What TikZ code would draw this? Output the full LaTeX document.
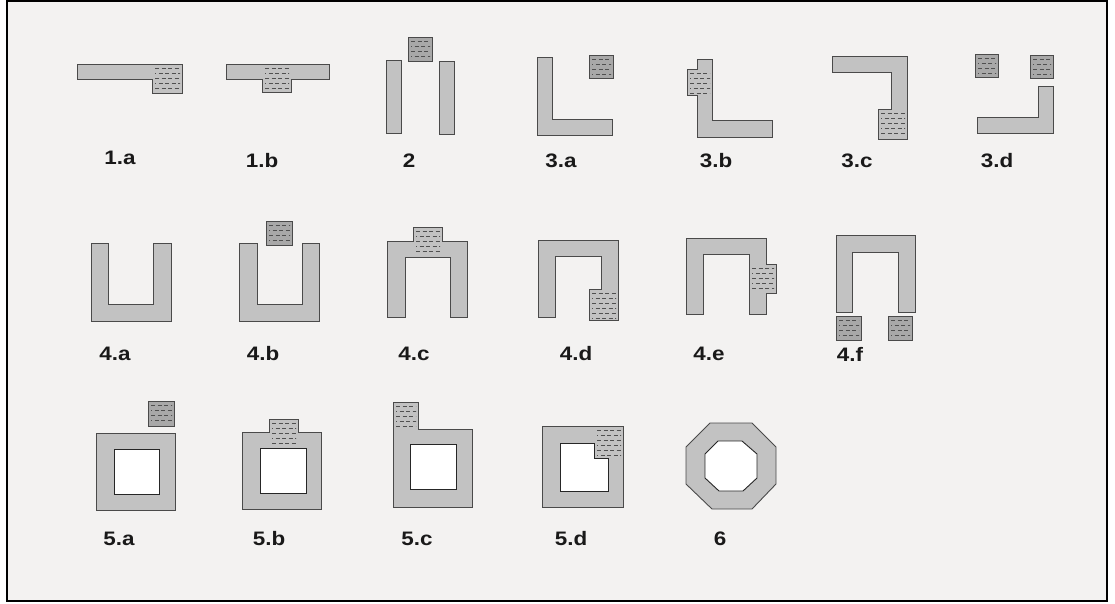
\documentclass[tikz,border=0pt]{standalone}
\usepackage{fontspec}
\setmainfont{Liberation Sans}
\definecolor{bg}{HTML}{F3F2F1}
\definecolor{barfill}{HTML}{C2C2C2}
\definecolor{sqfill}{HTML}{A8A8A8}
\definecolor{edge}{HTML}{4A4A4A}
\definecolor{dashc}{HTML}{505050}
\tikzset{
  part/.style={fill=barfill, draw=edge, line width=0.9pt, line join=miter},
  hole/.style={fill=white, draw=black!85, line width=0.9pt},
  sq/.style={fill=sqfill, draw=edge, line width=0.9pt},
  hatchline/.style={draw=dashc, line width=0.8pt, dash pattern=on 4pt off 2.5pt},
  lbl/.style={font=\bfseries\fontsize{19.5}{20}\selectfont, text=black!90, inner sep=0pt}
}
\newcommand{\hatchbox}[4]{%
  \begin{scope}
    \clip (#1+2,#2+2) rectangle (#3-2,#4-2);
    \foreach \k in {0,...,7}{%
      \pgfmathsetmacro{\yy}{#2+4.5+5*\k}%
      \pgfmathsetmacro{\off}{mod(\k,2)*3}%
      \draw[hatchline, dash phase=\off pt] (#1+3,\yy) -- (#3-1,\yy);
    }
  \end{scope}}
\newcommand{\sqbox}[4]{%
  \draw[sq] (#1,#2) rectangle (#3,#4);
  \hatchbox{#1}{#2}{#3}{#4}}
\newcommand{\lab}[4]{\node[lbl] (#1) at (#2,#3) {\scalebox{1.15}[1]{#4}};}
\begin{document}
\begin{tikzpicture}[x=1pt,y=-1pt]
\useasboundingbox (0,0) rectangle (1115,603);
\fill[white] (0,0) rectangle (1115,603);
\draw[fill=bg, draw=black, line width=2pt] (7,1) rectangle (1107,601);

% 1.a
\draw[part] (77,64) -- (182,64) -- (182,93) -- (152,93) -- (152,79) -- (77,79) -- cycle;
\hatchbox{152}{64}{182}{93}
% 1.b
\draw[part] (226,64) -- (329,64) -- (329,79) -- (291,79) -- (291,92) -- (262,92) -- (262,79) -- (226,79) -- cycle;
\hatchbox{262}{64}{291}{92}
% 2
\draw[part] (386,60) rectangle (401,133);
\draw[part] (439,61) rectangle (454,134);
\sqbox{408}{37}{432}{61}
% 3.a
\draw[part] (537,57) -- (552,57) -- (552,119) -- (612,119) -- (612,135) -- (537,135) -- cycle;
\sqbox{589}{55}{613}{78}
% 3.b
\draw[part] (697,59) -- (712,59) -- (712,120) -- (772,120) -- (772,137) -- (697,137) -- (697,95) -- (687,95) -- (687,69) -- (697,69) -- cycle;
\hatchbox{687}{69}{712}{95}
% 3.c
\draw[part] (832,56) -- (907,56) -- (907,139) -- (878,139) -- (878,109) -- (891,109) -- (891,72) -- (832,72) -- cycle;
\hatchbox{878}{109}{907}{139}
% 3.d
\sqbox{975}{54}{998}{77}
\sqbox{1030}{55}{1053}{78}
\draw[part] (1038,86) -- (1053,86) -- (1053,133) -- (977,133) -- (977,117) -- (1038,117) -- cycle;

% 4.a
\draw[part] (91,243) -- (108,243) -- (108,304) -- (153,304) -- (153,243) -- (171,243) -- (171,321) -- (91,321) -- cycle;
% 4.b
\draw[part] (239,243) -- (257,243) -- (257,304) -- (302,304) -- (302,243) -- (319,243) -- (319,321) -- (239,321) -- cycle;
\sqbox{266}{221}{292}{245}
% 4.c
\draw[part] (387,241) -- (413,241) -- (413,227) -- (442,227) -- (442,241) -- (467,241) -- (467,317) -- (450,317) -- (450,257) -- (405,257) -- (405,317) -- (387,317) -- cycle;
\hatchbox{413}{227}{442}{255}
% 4.d
\draw[part] (538,240) -- (618,240) -- (618,320) -- (589,320) -- (589,289) -- (601,289) -- (601,256) -- (555,256) -- (555,317) -- (538,317) -- cycle;
\hatchbox{589}{289}{618}{320}
% 4.e
\draw[part] (686,238) -- (766,238) -- (766,264) -- (776,264) -- (776,293) -- (766,293) -- (766,314) -- (749,314) -- (749,254) -- (703,254) -- (703,314) -- (686,314) -- cycle;
\hatchbox{749}{264}{776}{293}
% 4.f
\draw[part] (836,235) -- (915,235) -- (915,312) -- (898,312) -- (898,252) -- (852,252) -- (852,312) -- (836,312) -- cycle;
\sqbox{836}{316}{861}{340}
\sqbox{888}{316}{912}{340}

% 5.a
\draw[part] (96,433) rectangle (175,510);
\draw[hole] (114,449) rectangle (159,494);
\sqbox{148}{401}{174}{426}
% 5.b
\draw[part] (242,432) -- (269,432) -- (269,419) -- (298,419) -- (298,432) -- (321,432) -- (321,509) -- (242,509) -- cycle;
\hatchbox{269}{419}{298}{447}
\draw[hole] (260,448) rectangle (306,493);
% 5.c
\draw[part] (393,402) -- (418,402) -- (418,429) -- (472,429) -- (472,507) -- (393,507) -- cycle;
\hatchbox{393}{402}{418}{430}
\draw[hole] (410,444) rectangle (456,489);
% 5.d
\draw[part] (542,426) rectangle (623,507);
\hatchbox{594}{426}{623}{459}
\draw[hole] (560,443) -- (594,443) -- (594,458) -- (608,458) -- (608,491) -- (560,491) -- cycle;
% 6
\draw[part] (710,423) -- (752,423) -- (776,447) -- (776,484) -- (752,509) -- (712,509) -- (686,484) -- (686,447) -- cycle;
\draw[hole] (718,441) -- (742,441) -- (757,454) -- (757,478) -- (743,491) -- (719,491) -- (705,478) -- (705,454) -- cycle;

% labels
\lab{l1a}{120}{158}{1.a}
\lab{l1b}{262}{161}{1.b}
\lab{l2}{409}{161}{2}
\lab{l3a}{561}{161}{3.a}
\lab{l3b}{716}{161}{3.b}
\lab{l3c}{857}{161}{3.c}
\lab{l3d}{997}{161}{3.d}
\lab{l4a}{115}{354}{4.a}
\lab{l4b}{263}{354}{4.b}
\lab{l4c}{414}{354}{4.c}
\lab{l4d}{576}{354}{4.d}
\lab{l4e}{709}{354}{4.e}
\lab{l4f}{850}{354}{4.f}
\lab{l5a}{119}{539}{5.a}
\lab{l5b}{269}{539}{5.b}
\lab{l5c}{417}{539}{5.c}
\lab{l5d}{571}{539}{5.d}
\lab{l6}{720}{539}{6}
\end{tikzpicture}
\end{document}
